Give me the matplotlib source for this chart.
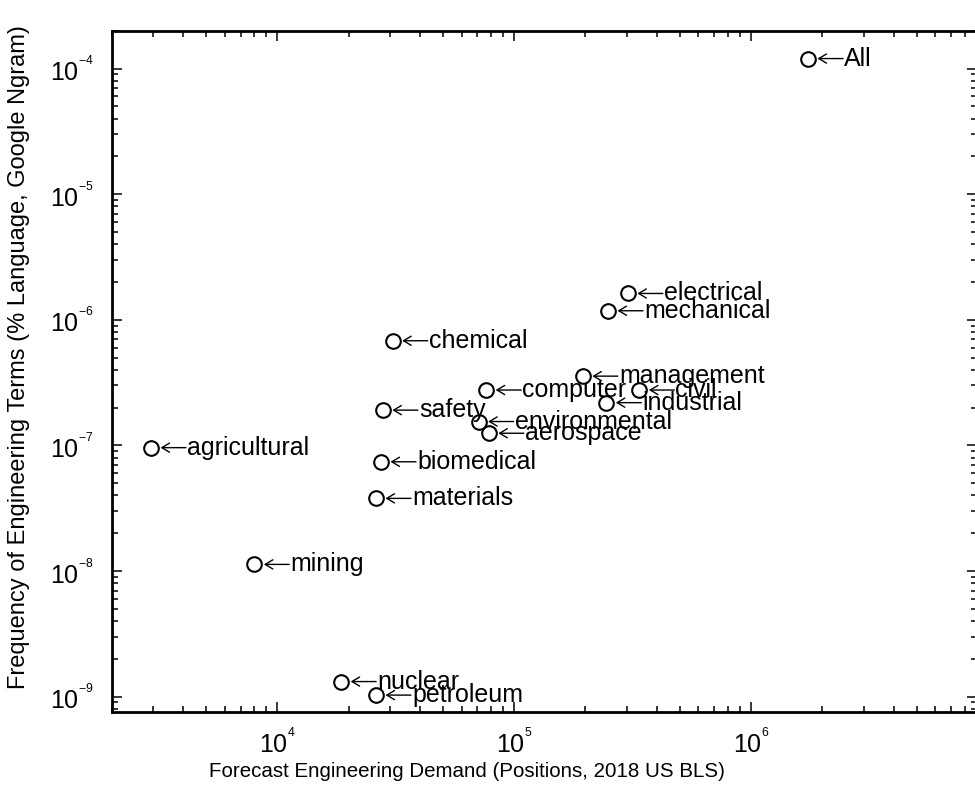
import numpy as np
import matplotlib
matplotlib.use("Agg")
import matplotlib.pyplot as plt
from matplotlib.ticker import FuncFormatter
from matplotlib.transforms import offset_copy

# ===================== DATOS =====================
campos = ["All", "electrical", "mechanical", "management", "civil", "industrial",
          "chemical", "computer", "safety", "environmental", "aerospace",
          "biomedical", "materials", "agricultural", "mining", "nuclear", "petroleum"]
demanda = [1.74e6, 3.02e5, 2.49e5, 1.95e5, 3.38e5, 2.45e5,
           3.07e4, 7.62e4, 2.79e4, 7.08e4, 7.82e4,
           2.74e4, 2.61e4, 2.93e3, 8.0e3, 1.86e4, 2.61e4]
frecuencia = [1.20e-4, 1.62e-6, 1.18e-6, 3.56e-7, 2.76e-7, 2.19e-7,
              6.81e-7, 2.76e-7, 1.91e-7, 1.55e-7, 1.25e-7,
              7.41e-8, 3.79e-8, 9.6e-8, 1.13e-8, 1.32e-9, 1.03e-9]

xlabel = "Forecast Engineering Demand (Positions, 2018 US BLS)"
ylabel = "Frequency of Engineering Terms (% Language, Google Ngram)"

# ===================== ESTILO =====================
fuentes = ["Liberation Sans", "DejaVu Sans"]
plt.rcParams["font.family"] = fuentes
plt.rcParams["mathtext.fontset"] = "custom"
plt.rcParams["mathtext.rm"] = "Liberation Sans"
plt.rcParams["mathtext.it"] = "Liberation Sans:italic"
plt.rcParams["mathtext.bf"] = "Liberation Sans:bold"
plt.rcParams["axes.unicode_minus"] = False

fig = plt.figure(figsize=(9.75, 7.95), dpi=100)
ax = fig.add_axes([0.1146, 0.1048, 0.8875, 0.8566])

ax.loglog(demanda, frecuencia, "o", color="black", mfc="none",
          markersize=10.5, markeredgewidth=1.5)

# flecha "<-" + etiqueta a la derecha de cada punto (desplazamiento en pixeles)
punta = offset_copy(ax.transData, fig=fig, x=9.5, y=0, units="dots")
cola = offset_copy(ax.transData, fig=fig, x=35, y=0, units="dots")
texto = offset_copy(ax.transData, fig=fig, x=36, y=0, units="dots")
for nombre, x, y in zip(campos, demanda, frecuencia):
    ax.annotate("", xy=(x, y), xycoords=punta, xytext=(x, y), textcoords=cola,
                arrowprops=dict(arrowstyle="->,head_length=0.55,head_width=0.33",
                                lw=1.0, color="black", shrinkA=0, shrinkB=0,
                                mutation_scale=10))
    ax.text(x, y, nombre, transform=texto, ha="left", va="center",
            fontsize=18, color="black")

ax.set_xlim(2e3, 9e6)
ax.set_ylim(7.6e-10, 2e-4)

# exponente pequeño y alto, estilo MATLAB
def potencia(v, pos):
    return r"$\mathdefault{10^{{}^{%d}}}$" % int(round(np.log10(v)))

ax.xaxis.set_major_formatter(FuncFormatter(potencia))
ax.yaxis.set_major_formatter(FuncFormatter(potencia))

for s in ax.spines.values():
    s.set_linewidth(2.0)

ax.tick_params(which="both", direction="in", top=True, right=True, width=1.1)
ax.tick_params(which="major", length=7.2, labelsize=18)
ax.tick_params(which="minor", length=4.0)
ax.tick_params(axis="x", which="major", pad=12)
ax.tick_params(axis="y", which="major", pad=13)

ax.set_xlabel(xlabel, fontsize=14.8)
ax.set_ylabel(ylabel, fontsize=17)
ax.xaxis.set_label_coords(0.4106, -0.074)
ax.yaxis.set_label_coords(-0.0944, 0.521)

fig.savefig("out.png", dpi=100)
